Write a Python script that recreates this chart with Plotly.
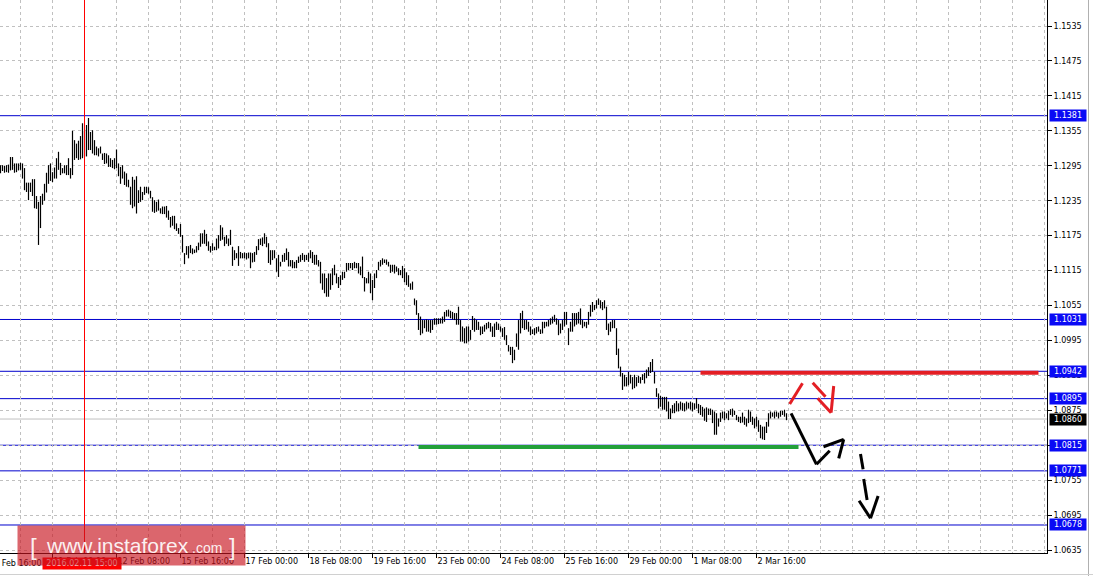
import plotly.graph_objects as go

# ---- EUR/USD H1 bars: high / low of every bar ----
highs = [
    1.1296,1.1296,1.1295,1.1296,1.1297,1.1310,1.1310,1.1299,1.1299,1.1299,
    1.1300,1.1299,1.1291,1.1266,1.1266,1.1266,1.1272,1.1272,1.1243,1.1233,
    1.1243,1.1247,1.1264,1.1283,1.1296,1.1299,1.1284,1.1292,1.1308,1.1319,
    1.1300,1.1291,1.1296,1.1296,1.1308,1.1291,1.1355,1.1339,1.1333,1.1338,
    1.1346,1.1368,1.1355,1.1365,1.1377,1.1353,1.1356,1.1339,1.1328,1.1325,
    1.1328,1.1316,1.1317,1.1316,1.1313,1.1308,1.1305,1.1308,1.1323,1.1299,
    1.1293,1.1296,1.1285,1.1282,1.1271,1.1259,1.1276,
    1.1271,1.1277,1.1253,1.1259,1.1250,1.1259,1.1259,1.1258,1.1252,1.1241,
    1.1236,1.1233,1.1237,1.1222,1.1225,1.1225,1.1226,1.1218,1.1207,1.1209,
    1.1209,1.1196,1.1188,1.1195,1.1176,1.1145,1.1157,1.1157,1.1159,1.1153,
    1.1151,1.1157,1.1163,1.1179,1.1179,1.1185,1.1178,1.1165,1.1157,1.1162,
    1.1156,1.1170,1.1176,1.1193,1.1189,1.1173,1.1176,1.1170,1.1185,1.1156,
    1.1150,1.1145,1.1157,1.1147,1.1145,1.1146,1.1145,1.1146,1.1146,1.1145,
    1.1147,1.1157,1.1169,1.1170,1.1172,1.1179,1.1173,
    1.1162,1.1150,1.1150,1.1150,1.1136,1.1142,1.1130,1.1142,1.1145,1.1153,
    1.1147,1.1133,1.1133,1.1130,1.1133,1.1139,1.1142,1.1145,1.1142,1.1142,
    1.1145,1.1150,1.1147,1.1142,1.1142,1.1133,1.1130,1.1110,1.1110,1.1102,
    1.1110,1.1110,1.1119,1.1125,1.1110,1.1104,1.1107,1.1113,1.1113,1.1128,
    1.1128,1.1128,1.1128,1.1130,1.1128,1.1128,1.1122,1.1139,1.1104,1.1102,
    1.1113,1.1110,1.1099,1.1110,1.1116,1.1130,1.1133,1.1136,1.1134,1.1134,
    1.1130,1.1125,1.1125,1.1125,1.1122,1.1119,1.1116,1.1123,1.1119,1.1112,
    1.1107,1.1093,1.1096,1.1067,1.1064,1.1042,1.1036,1.1030,1.1030,1.1031,
    1.1030,1.1030,1.1030,1.1033,1.1033,1.1033,1.1033,1.1036,1.1044,1.1047,
    1.1048,1.1046,1.1044,1.1042,1.1042,1.1053,1.1030,1.1019,1.1016,1.1019,
    1.1019,1.1013,1.1037,1.1033,1.1030,1.1027,1.1019,1.1019,1.1022,1.1025,
    1.1027,1.1025,1.1019,1.1024,1.1027,1.1024,1.1019,1.1016,1.1018,1.1004,
    1.0987,1.0984,1.0984,1.0979,1.1007,1.1030,1.1042,1.1046,1.1030,1.1030,
    1.1027,1.1019,1.1014,1.1016,1.1018,1.1019,1.1014,1.1027,1.1027,1.1027,
    1.1030,1.1033,1.1036,1.1039,1.1033,1.1030,1.1024,1.1030,1.1044,1.1044,
    1.1016,1.1027,1.1042,1.1042,1.1042,1.1044,1.1050,1.1030,1.1027,1.1027,
    1.1044,1.1056,1.1061,1.1056,1.1064,1.1067,1.1064,1.1061,1.1064,1.1053,
    1.1024,1.1027,1.1030,1.1030,1.1016,1.0981,1.0950,1.0939,1.0936,1.0932,
    1.0941,1.0936,1.0932,1.0936,1.0932,1.0934,1.0932,1.0937,1.0939,1.0945,
    1.0949,1.0958,1.0963,1.0941,1.0913,1.0904,1.0900,1.0898,1.0898,1.0898,
    1.0890,1.0878,1.0884,1.0887,1.0891,1.0887,1.0890,1.0888,1.0887,1.0890,
    1.0888,1.0890,1.0888,1.0887,1.0896,1.0886,1.0884,1.0881,1.0878,1.0880,
    1.0878,1.0878,1.0876,1.0873,1.0870,1.0861,1.0871,1.0873,1.0873,1.0870,
    1.0874,1.0877,1.0878,1.0874,1.0867,1.0864,1.0864,1.0871,1.0864,1.0861,
    1.0876,1.0873,1.0864,1.0861,1.0864,1.0858,1.0850,1.0847,1.0847,1.0855,
    1.0870,1.0873,1.0871,1.0873,1.0873,1.0871,1.0874,1.0874,1.0876,1.0870,
]
lows = [
    1.1282,1.1286,1.1283,1.1284,1.1283,1.1287,1.1288,1.1283,1.1284,1.1287,
    1.1288,1.1273,1.1253,1.1250,1.1236,1.1250,1.1243,1.1222,1.1221,1.1159,
    1.1188,1.1228,1.1235,1.1249,1.1264,1.1269,1.1267,1.1273,1.1273,1.1288,
    1.1279,1.1282,1.1282,1.1279,1.1279,1.1273,1.1279,1.1305,1.1308,1.1305,
    1.1306,1.1308,1.1311,1.1311,1.1322,1.1322,1.1316,1.1313,1.1313,1.1311,
    1.1316,1.1305,1.1298,1.1299,1.1293,1.1293,1.1291,1.1289,1.1291,1.1277,
    1.1264,1.1273,1.1262,1.1259,1.1258,1.1228,1.1222,
    1.1225,1.1213,1.1231,1.1233,1.1236,1.1245,1.1248,1.1247,1.1239,1.1216,
    1.1214,1.1216,1.1218,1.1213,1.1212,1.1212,1.1206,1.1202,1.1189,1.1192,
    1.1186,1.1183,1.1178,1.1173,1.1146,1.1126,1.1142,1.1136,1.1145,1.1143,
    1.1145,1.1146,1.1150,1.1156,1.1161,1.1161,1.1157,1.1149,1.1146,1.1149,
    1.1150,1.1150,1.1153,1.1166,1.1168,1.1157,1.1161,1.1157,1.1159,1.1123,
    1.1133,1.1136,1.1123,1.1136,1.1136,1.1136,1.1134,1.1136,1.1119,1.1129,
    1.1130,1.1142,1.1150,1.1159,1.1157,1.1161,1.1155,
    1.1128,1.1125,1.1133,1.1136,1.1113,1.1104,1.1122,1.1130,1.1130,1.1133,
    1.1122,1.1122,1.1119,1.1119,1.1119,1.1128,1.1130,1.1133,1.1130,1.1133,
    1.1130,1.1136,1.1128,1.1125,1.1125,1.1122,1.1093,1.1082,1.1076,1.1070,
    1.1070,1.1082,1.1090,1.1107,1.1093,1.1085,1.1090,1.1099,1.1102,1.1113,
    1.1116,1.1119,1.1116,1.1119,1.1119,1.1110,1.1107,1.1102,1.1079,1.1093,
    1.1093,1.1076,1.1064,1.1085,1.1102,1.1116,1.1122,1.1125,1.1128,1.1125,
    1.1122,1.1111,1.1113,1.1110,1.1113,1.1107,1.1107,1.1102,1.1095,1.1090,
    1.1087,1.1082,1.1082,1.1056,1.1039,1.1013,1.1004,1.1007,1.1016,1.1010,
    1.1010,1.1008,1.1013,1.1022,1.1022,1.1023,1.1024,1.1024,1.1027,1.1036,
    1.1036,1.1033,1.1031,1.1030,1.1022,1.1022,1.0993,1.0993,1.0990,1.0990,
    1.0993,1.0996,1.1013,1.1010,1.1013,1.1013,1.1004,1.1006,1.1010,1.1014,
    1.1016,1.1010,1.1001,1.1001,1.1013,1.1013,1.1010,1.1001,1.0996,1.0987,
    1.0976,1.0970,1.0956,1.0961,1.0984,1.0979,1.1007,1.1016,1.1013,1.1014,
    1.1010,1.1004,1.1006,1.1004,1.1007,1.1010,1.1006,1.1007,1.1016,1.1019,
    1.1019,1.1022,1.1024,1.1027,1.1022,1.1004,1.1007,1.1013,1.1019,1.1022,
    1.0987,1.1010,1.1010,1.1019,1.1022,1.1024,1.1022,1.1016,1.1019,1.1016,
    1.1022,1.1036,1.1044,1.1047,1.1050,1.1056,1.1050,1.1047,1.1050,1.1013,
    1.1004,1.1010,1.1016,1.1016,1.0970,1.0947,1.0933,1.0910,1.0916,1.0916,
    1.0918,1.0921,1.0911,1.0913,1.0916,1.0922,1.0921,1.0927,1.0921,1.0930,
    1.0934,1.0939,1.0941,1.0921,1.0898,1.0878,1.0881,1.0876,1.0876,1.0873,
    1.0860,1.0860,1.0870,1.0870,1.0873,1.0873,1.0876,1.0874,1.0873,1.0876,
    1.0878,1.0876,1.0873,1.0876,1.0878,1.0870,1.0867,1.0864,1.0857,1.0855,
    1.0867,1.0867,1.0853,1.0833,1.0833,1.0847,1.0855,1.0861,1.0858,1.0861,
    1.0858,1.0867,1.0864,1.0867,1.0858,1.0855,1.0853,1.0854,1.0850,1.0847,
    1.0853,1.0855,1.0850,1.0844,1.0847,1.0838,1.0827,1.0825,1.0824,1.0836,
    1.0847,1.0861,1.0864,1.0861,1.0864,1.0861,1.0864,1.0867,1.0864,1.0858,
]

# horizontal levels drawn on the chart
levels = [1.1381, 1.1031, 1.0942, 1.0895, 1.0815, 1.0771, 1.0678]
current_price = 1.0860
resistance_zone = 1.09395      # thick red line
support_zone = 1.0812          # thick green line
resistance_bars = [350, 519]
support_bars = [209, 399]
marked_bar = 42                # 2016.02.11 15:00 (red vertical line)
marked_label = "2016.02.11 15:00"

# price scale
y_tick_values = [1.0635, 1.0695, 1.0755, 1.0815, 1.0875, 1.0935, 1.0995, 1.1055,
                 1.1115, 1.1175, 1.1235, 1.1295, 1.1355, 1.1415, 1.1475, 1.1535]
# time scale (bar index of each label)
x_tick_bars = [26, 58, 90, 122, 154, 186, 218, 250, 282, 314, 346, 378]
x_tick_labels = ["11 Feb 00:00", "12 Feb 08:00", "15 Feb 16:00", "17 Feb 00:00",
                 "18 Feb 08:00", "19 Feb 16:00", "23 Feb 00:00", "24 Feb 08:00",
                 "25 Feb 16:00", "29 Feb 00:00", "1 Mar 08:00", "2 Mar 16:00"]
first_label = "10 Feb 16:00"

# hand-drawn forecast arrows: (bar0, price0, bar1, price1, colour)
arrow_strokes = [
    (394.6, 1.08858, 401.0, 1.09214, "#E31E24"),
    (406.1, 1.09224, 412.5, 1.08983, "#E31E24"),
    (408.6, 1.08956, 415.3, 1.08709, "#E31E24"),
    (415.3, 1.08709, 416.6, 1.09167, "#E31E24"),
    (395.3, 1.08698, 408.0, 1.07822, "black"),
    (408.0, 1.07822, 414.6, 1.08056, "black"),
    (411.5, 1.08124, 421.6, 1.08252, "black"),
    (421.6, 1.08252, 419.1, 1.07925, "black"),
    (430.0, 1.07999, 431.3, 1.07736, "black"),
    (431.6, 1.07570, 433.3, 1.07209, "black"),
    (429.3, 1.07197, 435.0, 1.06895, "black"),
    (435.0, 1.06895, 438.8, 1.07278, "black"),
]

# ---------------- geometry ----------------
W, H = 1093, 576
ML, MR, MT, MB = 0, 46, 0, 23
PW, PH = W - ML - MR, H - MT - MB      # 1047 x 553
FONT = "DejaVu Sans"


def px(xpix):
    return xpix / PW


def py(ypix):
    return 1 - ypix / PH


n = min(len(highs), len(lows))
seg_x, seg_y = [], []
for i in range(n):
    seg_x += [i, i, None]
    seg_y += [lows[i], highs[i], None]

fig = go.Figure()
fig.add_trace(go.Scatter(x=seg_x, y=seg_y, mode="lines",
                         line=dict(color="black", width=1.2),
                         hoverinfo="skip", showlegend=False))

shapes = []
# thick zones
shapes.append(dict(type="line", xref="x", yref="y", x0=resistance_bars[0], x1=resistance_bars[1],
                   y0=resistance_zone, y1=resistance_zone, line=dict(color="#E31E24", width=4),
                   layer="between"))
shapes.append(dict(type="line", xref="x", yref="y", x0=support_bars[0], x1=support_bars[1],
                   y0=support_zone, y1=support_zone, line=dict(color="#22A03A", width=4),
                   layer="between"))
# current price line
shapes.append(dict(type="line", xref="paper", yref="y", x0=0, x1=1, y0=current_price,
                   y1=current_price, line=dict(color="#C0C0C0", width=1), layer="between"))
# level lines
for v in levels:
    shapes.append(dict(type="line", xref="paper", yref="y", x0=0, x1=1, y0=v, y1=v,
                       line=dict(color="#0000CD", width=1), layer="between"))
# red vertical marker
shapes.append(dict(type="line", xref="x", yref="paper", x0=marked_bar, x1=marked_bar,
                   y0=0, y1=1, line=dict(color="#FF0000", width=1), layer="above"))
# arrows
for x0, y0, x1, y1, c in arrow_strokes:
    shapes.append(dict(type="line", xref="x", yref="y", x0=x0, y0=y0, x1=x1, y1=y1,
                       line=dict(color=c, width=3), layer="above"))
# window edges
shapes.append(dict(type="line", xref="paper", yref="paper", x0=px(1088.5), x1=px(1088.5),
                   y0=py(576), y1=py(0), line=dict(color="#B0B0B0", width=1)))
shapes.append(dict(type="line", xref="paper", yref="paper", x0=0, x1=px(1093),
                   y0=py(574.5), y1=py(574.5), line=dict(color="#D0D0D0", width=1)))

annotations = []
label_y = py(563)
# price labels on the right
for v in levels:
    annotations.append(dict(xref="paper", yref="y", x=px(1049), y=v, xanchor="left",
                            yanchor="middle", text=f"{v:.4f}", showarrow=False,
                            font=dict(family=FONT, size=8, color="white"),
                            bgcolor="#0A0AF5", width=34, height=9, borderpad=1, align="center"))
annotations.append(dict(xref="paper", yref="y", x=px(1049), y=current_price, xanchor="left",
                        yanchor="middle", text=f"{current_price:.4f}", showarrow=False,
                        font=dict(family=FONT, size=8, color="white"),
                        bgcolor="black", width=34, height=9, borderpad=1, align="center"))
# partially visible first time label
annotations.append(dict(xref="paper", yref="paper", x=px(-13), y=label_y, xanchor="left",
                        yanchor="middle", text=first_label, showarrow=False,
                        font=dict(family=FONT, size=8, color="black")))
# red date box of the marked bar
annotations.append(dict(xref="paper", yref="paper", x=px(42), y=label_y, xanchor="left",
                        yanchor="middle", text=marked_label, showarrow=False,
                        font=dict(family=FONT, size=8, color="white"),
                        bgcolor="#FF0000", width=76, height=9, borderpad=1, align="center"))
# watermark
annotations.append(dict(xref="paper", yref="paper", x=px(17), y=py(525), xanchor="left",
                        yanchor="top", text=" ", showarrow=False,
                        bgcolor="rgba(200,20,30,0.65)", width=227, height=39, borderpad=0))
wm_font = "Liberation Sans"
annotations.append(dict(xref="paper", yref="paper", x=px(28), y=py(546), xanchor="left",
                        yanchor="middle", text="[", showarrow=False,
                        font=dict(family=wm_font, size=24, color="rgba(255,255,255,0.92)")))
annotations.append(dict(xref="paper", yref="paper", x=px(44), y=py(545), xanchor="left",
                        yanchor="middle", text="www.instaforex", showarrow=False,
                        font=dict(family=wm_font, size=21, color="rgba(255,255,255,0.92)")))
annotations.append(dict(xref="paper", yref="paper", x=px(190), y=py(548), xanchor="left",
                        yanchor="middle", text=".com", showarrow=False,
                        font=dict(family=wm_font, size=14, color="rgba(255,255,255,0.92)")))
annotations.append(dict(xref="paper", yref="paper", x=px(227), y=py(546), xanchor="left",
                        yanchor="middle", text="]", showarrow=False,
                        font=dict(family=wm_font, size=24, color="rgba(255,255,255,0.92)")))

fig.update_layout(
    width=W, height=H,
    margin=dict(l=ML, r=MR, t=MT, b=MB, pad=0),
    paper_bgcolor="white", plot_bgcolor="white",
    showlegend=False,
    shapes=shapes, annotations=annotations,
    xaxis=dict(range=[-0.25, (PW - 0.5) / 2], showgrid=False, zeroline=False,
               tickmode="array", tickvals=x_tick_bars, ticktext=x_tick_labels,
               ticks="outside", ticklen=4, tickcolor="black", tickwidth=1,
               ticklabelposition="outside right",
               tickfont=dict(family=FONT, size=8, color="black"),
               showline=True, linecolor="black", linewidth=1,
               minor=dict(tickmode="linear", tick0=10.1, dtick=16, showgrid=True,
                          gridcolor="#C0C0C0", griddash="3px,3px", gridwidth=1, ticks=""),
               fixedrange=True),
    yaxis=dict(range=[1.06299, 1.15797], side="right", zeroline=False,
               tickmode="array", tickvals=y_tick_values,
               ticktext=[f"{v:.4f}" for v in y_tick_values],
               ticks="outside", ticklen=4, tickcolor="black", tickwidth=1,
               tickfont=dict(family=FONT, size=8, color="black"),
               showgrid=True, gridcolor="#C0C0C0", griddash="3px,3px", gridwidth=1,
               showline=True, linecolor="black", linewidth=1, fixedrange=True),
)

fig.write_html("out.html", config={"displayModeBar": False},
               post_script="document.body.style.margin='0';document.body.style.overflow='hidden';")
